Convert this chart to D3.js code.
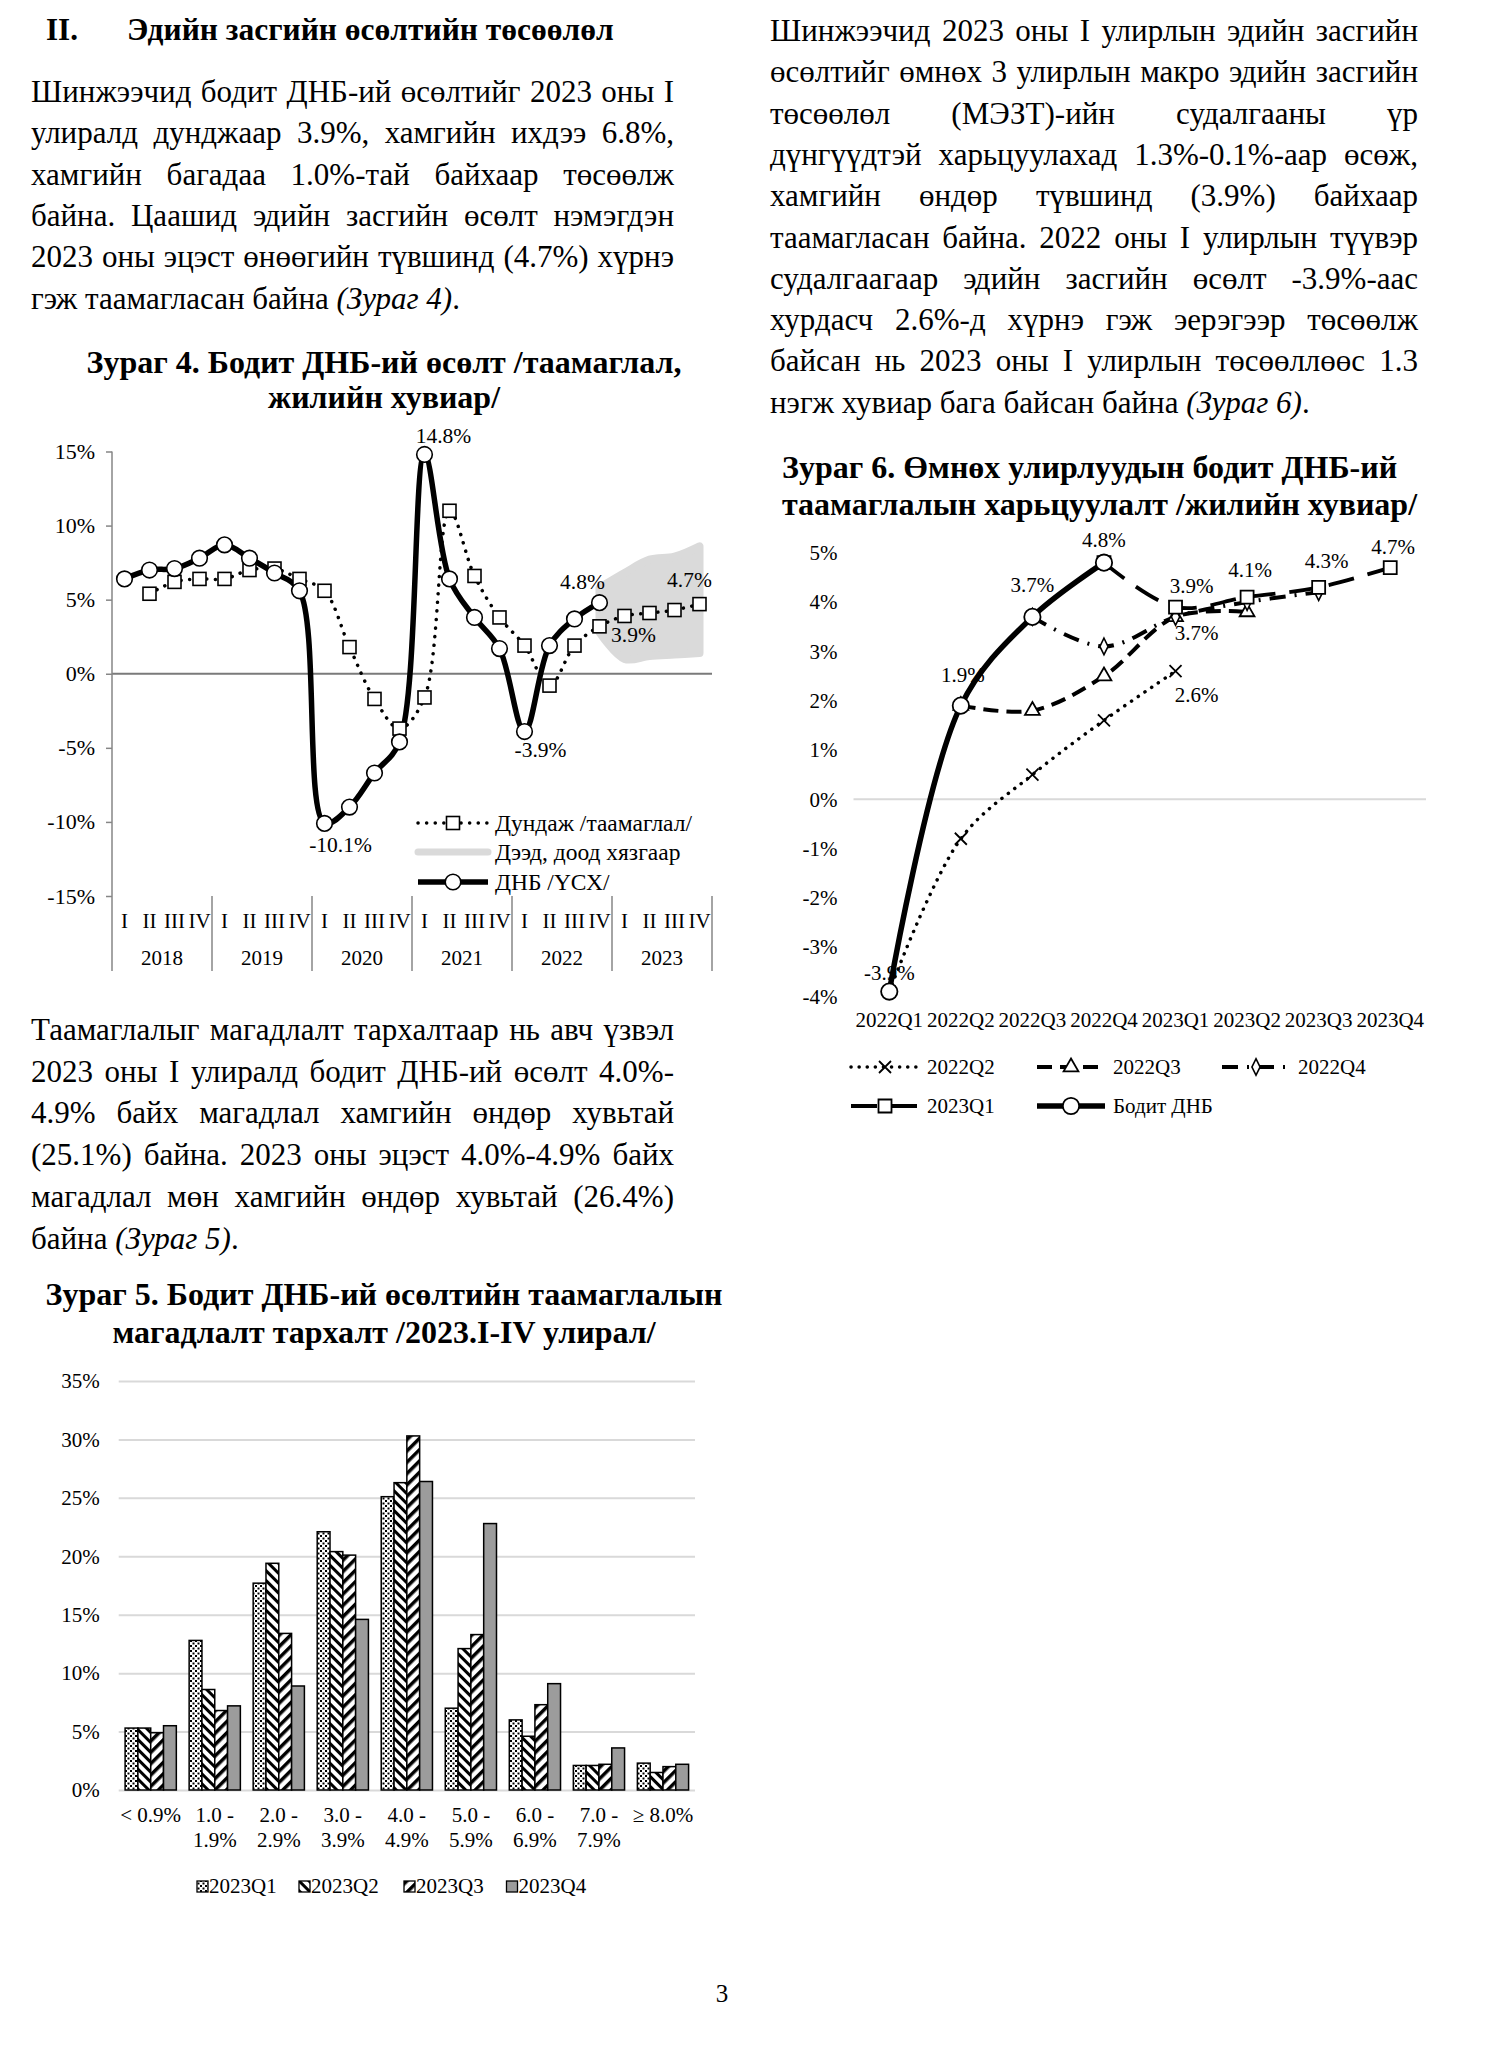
<!DOCTYPE html>
<html>
<head>
<meta charset="utf-8">
<script src="https://cdn.jsdelivr.net/npm/d3@7"></script>
<style>
  body { margin: 0; background: #fff; }
  svg { display: block; }
  text { font-family: "Liberation Serif", "Times New Roman", serif; fill: #000; }
</style>
</head>
<body>
<script>
"use strict";

/* ===== DATA ===== */

// text of the page
var headNum = "II.";
var headText = "Эдийн засгийн өсөлтийн төсөөлөл";
var para1 = [
  "Шинжээчид бодит ДНБ-ий өсөлтийг 2023 оны I",
  "улиралд дунджаар 3.9%, хамгийн ихдээ 6.8%,",
  "хамгийн багадаа 1.0%-тай байхаар төсөөлж",
  "байна. Цаашид эдийн засгийн өсөлт нэмэгдэн",
  "2023 оны эцэст өнөөгийн түвшинд (4.7%) хүрнэ"
];
var para1Last = [["гэж таамагласан байна ", false], ["(Зураг 4)", true], [".", false]];
var para2 = [
  "Шинжээчид 2023 оны I улирлын эдийн засгийн",
  "өсөлтийг өмнөх 3 улирлын макро эдийн засгийн",
  "төсөөлөл (МЭЗТ)-ийн судалгааны үр",
  "дүнгүүдтэй харьцуулахад 1.3%-0.1%-аар өсөж,",
  "хамгийн өндөр түвшинд (3.9%) байхаар",
  "таамагласан байна. 2022 оны I улирлын түүвэр",
  "судалгаагаар эдийн засгийн өсөлт -3.9%-аас",
  "хурдасч 2.6%-д хүрнэ гэж эерэгээр төсөөлж",
  "байсан нь 2023 оны I улирлын төсөөллөөс 1.3"
];
var para2Last = [["нэгж хувиар бага байсан байна ", false], ["(Зураг 6)", true], [".", false]];
var para3 = [
  "Таамаглалыг магадлалт тархалтаар нь авч үзвэл",
  "2023 оны I улиралд бодит ДНБ-ий өсөлт 4.0%-",
  "4.9% байх магадлал хамгийн өндөр хувьтай",
  "(25.1%) байна. 2023 оны эцэст 4.0%-4.9% байх",
  "магадлал мөн хамгийн өндөр хувьтай (26.4%)"
];
var para3Last = [["байна ", false], ["(Зураг 5)", true], [".", false]];

// Зураг 4
var title4 = ["Зураг 4. Бодит ДНБ-ий өсөлт /таамаглал,", "жилийн хувиар/"];
var quarters4 = ["I", "II", "III", "IV"];
var years4 = ["2018", "2019", "2020", "2021", "2022", "2023"];
var gdpActual = [6.4, 7.0, 7.1, 7.8,  8.7, 7.8, 6.8, 5.6,  -10.1, -9.0, -6.7, -4.6,
                 14.8, 6.4, 3.8, 1.7,  -3.9, 1.9, 3.7, 4.8,  null, null, null, null];
var gdpMean = [null, 5.4, 6.2, 6.4,  6.4, 7.0, 7.1, 6.4,  5.6, 1.8, -1.7, -3.7,
               -1.6, 11.0, 6.6, 3.8,  1.9, -0.8, 1.9, 3.2,  3.9, 4.1, 4.3, 4.7];
var bandUpper = [null, null, null, null, null, null, null, null, null, null, null, null,
                 null, null, null, null, null, null, null, 5.8, 6.8, 7.7, 7.9, 8.6];
var bandLower = [null, null, null, null, null, null, null, null, null, null, null, null,
                 null, null, null, null, null, null, null, 2.8, 1.0, 1.2, 1.3, 1.4];
var legend4 = ["Дундаж /таамаглал/", "Дээд, доод хязгаар", "ДНБ /ҮСХ/"];
// [quarter index, series, text, dx, dy]
var labels4 = [[12, "a", "14.8%", 19, -11], [8, "a", "-10.1%", 16, 29], [16, "a", "-3.9%", 16, 25],
               [19, "a", "4.8%", -17, -14], [23, "m", "4.7%", -10, -17], [20, "m", "3.9%", 9, 26]];

// Зураг 6
var title6 = ["Зураг 6. Өмнөх улирлуудын бодит ДНБ-ий", "таамаглалын харьцуулалт /жилийн хувиар/"];
var cats6 = ["2022Q1", "2022Q2", "2022Q3", "2022Q4", "2023Q1", "2023Q2", "2023Q3", "2023Q4"];
var f2022Q2 = [-3.9, -0.8, 0.5, 1.6, 2.6, null, null, null];
var f2022Q3 = [null, 1.9, 1.8, 2.5, 3.7, 3.8, null, null];
var f2022Q4 = [null, null, 3.7, 3.1, 3.7, 4.0, 4.2, null];
var f2023Q1 = [null, null, null, 4.8, 3.9, 4.1, 4.3, 4.7];
var gdpReal6 = [-3.9, 1.9, 3.7, 4.8, null, null, null, null];
var names6 = ["2022Q2", "2022Q3", "2022Q4", "2023Q1", "Бодит ДНБ"];
// [category index, value, text, dx, dy]
var labels6 = [[0, -3.9, "-3.9%", 0, -12], [1, 1.9, "1.9%", 2, -24], [2, 3.7, "3.7%", 0, -25],
               [3, 4.8, "4.8%", 0, -16], [4, 3.9, "3.9%", 16, -14], [4, 3.7, "3.7%", 21, 23],
               [4, 2.6, "2.6%", 21, 31], [5, 4.1, "4.1%", 3, -20], [6, 4.3, "4.3%", 8, -19],
               [7, 4.7, "4.7%", 3, -14]];

// Зураг 5
var title5 = ["Зураг 5. Бодит ДНБ-ий өсөлтийн таамаглалын", "магадлалт тархалт /2023.I-IV улирал/"];
var bins5 = [["< 0.9%"], ["1.0 -", "1.9%"], ["2.0 -", "2.9%"], ["3.0 -", "3.9%"], ["4.0 -", "4.9%"],
             ["5.0 -", "5.9%"], ["6.0 -", "6.9%"], ["7.0 -", "7.9%"], ["≥ 8.0%"]];
var series5 = ["2023Q1", "2023Q2", "2023Q3", "2023Q4"];
var p2023Q1 = [5.3, 12.8, 17.7, 22.1, 25.1, 7.0, 6.0, 2.1, 2.3];
var p2023Q2 = [5.3, 8.6, 19.4, 20.4, 26.3, 12.1, 4.6, 2.1, 1.5];
var p2023Q3 = [4.9, 6.8, 13.4, 20.1, 30.3, 13.3, 7.3, 2.2, 2.0];
var p2023Q4 = [5.5, 7.2, 8.9, 14.6, 26.4, 22.8, 9.1, 3.6, 2.2];

/* ===== PAGE ===== */

var svg = d3.select("body").append("svg")
            .attr("width", 1497)
            .attr("height", 2048);

// justified paragraph, every line except the last one spread to the full width
var paragraph = function(lines, last, x, y, width, lh) {
  var g = svg.append("g").style("font-size", "31px");
  lines.forEach(function(line, i) {
    var words = line.split(" ");
    var ty = y + i * lh;
    var nodes = words.map(function(w) { return g.append("text").attr("y", ty).text(w); });
    var widths = nodes.map(function(n) { return n.node().getComputedTextLength(); });
    var gap = (width - d3.sum(widths)) / (words.length - 1);
    if (gap < 4) {
      nodes.forEach(function(n) { n.remove(); });
      g.append("text").attr("x", x).attr("y", ty).text(line)
       .attr("textLength", width).attr("lengthAdjust", "spacingAndGlyphs");
      return;
    }
    var cx = x;
    nodes.forEach(function(n, j) { n.attr("x", cx); cx += widths[j] + gap; });
  });
  var t = g.append("text").attr("x", x).attr("y", y + lines.length * lh);
  last.forEach(function(p) {
    t.append("tspan").style("font-style", p[1] ? "italic" : "normal").text(p[0]);
  });
};

svg.append("text").attr("x", 46).attr("y", 40)
   .style("font-size", "31px").style("font-weight", "bold").text(headNum);
svg.append("text").attr("x", 127).attr("y", 40)
   .style("font-size", "31.5px").style("font-weight", "bold").text(headText);

paragraph(para1, para1Last, 31, 102, 643, 41.3);
paragraph(para2, para2Last, 770, 41, 648, 41.3);
paragraph(para3, para3Last, 31, 1040, 643, 41.7);

svg.append("text").attr("x", 722).attr("y", 2002).attr("text-anchor", "middle")
   .style("font-size", "25px").text("3");

var title = function(lines, x, y, lh, anchor) {
  lines.forEach(function(l, i) {
    svg.append("text").attr("x", x).attr("y", y + i * lh)
       .attr("text-anchor", anchor)
       .style("font-size", "32px").style("font-weight", "bold").text(l);
  });
};

/* ===== ЗУРАГ 4 ===== */
title(title4, 384, 373, 35, "middle");

var x4 = d3.scaleBand().domain(d3.range(24)).range([112, 712]);
var yr4 = d3.scaleBand().domain(years4).range([112, 712]);
var y4 = d3.scaleLinear().domain([-15, 15]).range([896, 451.5]);
var cx4 = function(i) { return x4(i) + x4.bandwidth() / 2; };
var g4 = svg.append("g");

// min / max band
var band = d3.area()
  .defined(function(d, i) { return bandUpper[i] != null; })
  .x(function(d, i) { return cx4(i); })
  .y0(function(d, i) { return y4(bandLower[i]); })
  .y1(function(d, i) { return y4(bandUpper[i]); })
  .curve(d3.curveCatmullRom);
g4.append("path").datum(bandUpper).attr("d", band)
  .attr("fill", "#dadada").attr("stroke", "#dadada")
  .attr("stroke-width", 8).attr("stroke-linejoin", "round");

// axes
var yAxis4 = d3.axisLeft(y4).tickValues([-15, -10, -5, 0, 5, 10, 15])
  .tickFormat(function(d) { return d + "%"; }).tickSize(6).tickPadding(11);
g4.append("g").attr("transform", "translate(112,0)").call(yAxis4)
  .call(function(a) {
    a.select(".domain").remove();
    a.selectAll("line").attr("stroke", "#868686").attr("stroke-width", 1.5);
    a.selectAll("text").style("font-size", "22px").style("font-family", "Liberation Serif");
  });
g4.append("line").attr("x1", 112).attr("x2", 712).attr("y1", y4(0)).attr("y2", y4(0))
  .attr("stroke", "#7a7a7a").attr("stroke-width", 2);
g4.append("line").attr("x1", 112).attr("x2", 112).attr("y1", y4(15)).attr("y2", 971)
  .attr("stroke", "#868686").attr("stroke-width", 1.5);
g4.selectAll(".sep").data(years4).enter().append("line")
  .attr("x1", function(d) { return yr4(d) + yr4.bandwidth(); })
  .attr("x2", function(d) { return yr4(d) + yr4.bandwidth(); })
  .attr("y1", y4(-15)).attr("y2", 971)
  .attr("stroke", "#868686").attr("stroke-width", 1.5);
g4.selectAll(".qlab").data(d3.range(24)).enter().append("text")
  .attr("x", cx4).attr("y", 928).attr("text-anchor", "middle")
  .style("font-size", "21px")
  .text(function(d) { return quarters4[d % 4]; });
g4.selectAll(".ylab").data(years4).enter().append("text")
  .attr("x", function(d) { return yr4(d) + yr4.bandwidth() / 2; })
  .attr("y", 965).attr("text-anchor", "middle")
  .style("font-size", "21px").text(function(d) { return d; });

// lines
var line4 = function(arr) {
  return d3.line()
    .defined(function(d) { return d != null; })
    .x(function(d, i) { return cx4(i); })
    .y(function(d) { return y4(d); })
    .curve(d3.curveCatmullRom)(arr);
};
g4.append("path").attr("d", line4(gdpMean)).attr("fill", "none")
  .attr("stroke", "#000").attr("stroke-width", 3.5)
  .attr("stroke-dasharray", "0.1,8.5").attr("stroke-linecap", "round");
g4.append("path").attr("d", line4(gdpActual)).attr("fill", "none")
  .attr("stroke", "#000").attr("stroke-width", 5.5);

// markers
gdpMean.forEach(function(d, i) {
  if (d == null) return;
  g4.append("rect").attr("x", cx4(i) - 6.5).attr("y", y4(d) - 6.5)
    .attr("width", 13).attr("height", 13)
    .attr("fill", "#fff").attr("stroke", "#000").attr("stroke-width", 1.6);
});
gdpActual.forEach(function(d, i) {
  if (d == null) return;
  g4.append("circle").attr("cx", cx4(i)).attr("cy", y4(d)).attr("r", 7.8)
    .attr("fill", "#fff").attr("stroke", "#000").attr("stroke-width", 1.6);
});

labels4.forEach(function(l) {
  var v = l[1] == "a" ? gdpActual[l[0]] : gdpMean[l[0]];
  g4.append("text").attr("x", cx4(l[0]) + l[3]).attr("y", y4(v) + l[4])
    .attr("text-anchor", "middle").style("font-size", "21.5px").text(l[2]);
});

// legend
var lg4 = g4.append("g");
[823, 852, 882].forEach(function(ly, i) {
  if (i == 0) {
    lg4.append("line").attr("x1", 418).attr("x2", 488).attr("y1", ly).attr("y2", ly)
      .attr("stroke", "#000").attr("stroke-width", 3.5)
      .attr("stroke-dasharray", "0.1,8.5").attr("stroke-linecap", "round");
    lg4.append("rect").attr("x", 446.5).attr("y", ly - 6.5).attr("width", 13).attr("height", 13)
      .attr("fill", "#fff").attr("stroke", "#000").attr("stroke-width", 1.6);
  } else if (i == 1) {
    lg4.append("line").attr("x1", 418).attr("x2", 488).attr("y1", ly).attr("y2", ly)
      .attr("stroke", "#dadada").attr("stroke-width", 7).attr("stroke-linecap", "round");
  } else {
    lg4.append("line").attr("x1", 418).attr("x2", 488).attr("y1", ly).attr("y2", ly)
      .attr("stroke", "#000").attr("stroke-width", 5.5);
    lg4.append("circle").attr("cx", 453).attr("cy", ly).attr("r", 7.8)
      .attr("fill", "#fff").attr("stroke", "#000").attr("stroke-width", 1.6);
  }
  lg4.append("text").attr("x", 495).attr("y", ly + 8).style("font-size", "23.5px").text(legend4[i]);
});

/* ===== ЗУРАГ 6 ===== */
title(title6, 782, 478, 37, "start");

var x6 = d3.scaleBand().domain(cats6).range([853.5, 1426]);
var y6 = d3.scaleLinear().domain([-4, 5]).range([996.5, 552.8]);
var cx6 = function(i) { return x6(cats6[i]) + x6.bandwidth() / 2; };
var g6 = svg.append("g");

g6.append("g").attr("transform", "translate(853.5,0)")
  .call(d3.axisLeft(y6).ticks(9).tickFormat(function(d) { return d + "%"; }).tickSize(0).tickPadding(16))
  .call(function(a) {
    a.select(".domain").remove();
    a.selectAll("text").style("font-size", "21px").style("font-family", "Liberation Serif");
  });
g6.append("line").attr("x1", 853.5).attr("x2", 1426).attr("y1", y6(0)).attr("y2", y6(0))
  .attr("stroke", "#d9d9d9").attr("stroke-width", 2);
g6.selectAll(".cat").data(cats6).enter().append("text")
  .attr("x", function(d, i) { return cx6(i); }).attr("y", 1027)
  .attr("text-anchor", "middle").style("font-size", "21px").text(function(d) { return d; });

var styles6 = [
  { data: f2022Q2, width: 3.5, dash: "0.1,8", cap: "round", mark: "x" },
  { data: f2022Q3, width: 4, dash: "15,8", cap: "butt", mark: "tri" },
  { data: f2022Q4, width: 4, dash: "16,9,2,9", cap: "butt", mark: "dia" },
  { data: f2023Q1, width: 3.8, dash: "26,14", cap: "butt", mark: "sq" },
  { data: gdpReal6, width: 5.5, dash: null, cap: "butt", mark: "circ" }
];
var line6 = d3.line()
  .defined(function(d) { return d != null; })
  .x(function(d, i) { return cx6(i); })
  .y(function(d) { return y6(d); })
  .curve(d3.curveCatmullRom);

var marker = function(g, type, x, y) {
  if (type == "x") {
    g.append("path").attr("d", "M" + (x - 6) + "," + (y - 6) + "L" + (x + 6) + "," + (y + 6) +
        "M" + (x + 6) + "," + (y - 6) + "L" + (x - 6) + "," + (y + 6))
      .attr("stroke", "#000").attr("stroke-width", 1.8).attr("fill", "none");
  } else {
    var sym = { tri: d3.symbolTriangle, dia: d3.symbolDiamond, sq: d3.symbolSquare, circ: d3.symbolCircle }[type];
    var size = { tri: 95, dia: 80, sq: 169, circ: 210 }[type];
    g.append("path").attr("d", d3.symbol().type(sym).size(size)())
      .attr("transform", "translate(" + x + "," + y + ")" + (type == "dia" ? " scale(0.85,1)" : ""))
      .attr("fill", "#fff").attr("stroke", "#000").attr("stroke-width", 1.8);
  }
};

styles6.forEach(function(s) {
  g6.append("path").attr("d", line6(s.data)).attr("fill", "none")
    .attr("stroke", "#000").attr("stroke-width", s.width)
    .attr("stroke-dasharray", s.dash).attr("stroke-linecap", s.cap);
});
styles6.forEach(function(s) {
  s.data.forEach(function(d, i) { if (d != null) marker(g6, s.mark, cx6(i), y6(d)); });
});

labels6.forEach(function(l) {
  g6.append("text").attr("x", cx6(l[0]) + l[3]).attr("y", y6(l[1]) + l[4])
    .attr("text-anchor", "middle").style("font-size", "21px").text(l[2]);
});

// legend
var pos6 = [[851, 1067], [1037, 1067], [1222, 1067], [851, 1106], [1037, 1106]];
styles6.forEach(function(s, i) {
  var lx = pos6[i][0], ly = pos6[i][1];
  g6.append("line").attr("x1", lx).attr("x2", lx + 68).attr("y1", ly).attr("y2", ly)
    .attr("stroke", "#000").attr("stroke-width", s.width)
    .attr("stroke-dasharray", s.dash).attr("stroke-linecap", s.cap);
  marker(g6, s.mark, lx + 34, ly);
  g6.append("text").attr("x", lx + 76).attr("y", ly + 7).style("font-size", "21px").text(names6[i]);
});

/* ===== ЗУРАГ 5 ===== */
title(title5, 384, 1305, 38, "middle");

var defs = svg.append("defs");
var p1 = defs.append("pattern").attr("id", "pQ1").attr("patternUnits", "userSpaceOnUse")
  .attr("width", 5).attr("height", 5);
p1.append("rect").attr("width", 5).attr("height", 5).attr("fill", "#fff");
p1.append("rect").attr("width", 2).attr("height", 2).attr("fill", "#000");
p1.append("rect").attr("x", 2.5).attr("y", 2.5).attr("width", 2).attr("height", 2).attr("fill", "#000");
var p2 = defs.append("pattern").attr("id", "pQ2").attr("patternUnits", "userSpaceOnUse")
  .attr("width", 7).attr("height", 7).attr("patternTransform", "rotate(-45)");
p2.append("rect").attr("width", 7).attr("height", 7).attr("fill", "#fff");
p2.append("rect").attr("width", 3).attr("height", 7).attr("fill", "#000");
var p3 = defs.append("pattern").attr("id", "pQ3").attr("patternUnits", "userSpaceOnUse")
  .attr("width", 8).attr("height", 8).attr("patternTransform", "rotate(45)");
p3.append("rect").attr("width", 8).attr("height", 8).attr("fill", "#fff");
p3.append("rect").attr("width", 3.5).attr("height", 8).attr("fill", "#000");
var fills5 = ["url(#pQ1)", "url(#pQ2)", "url(#pQ3)", "#9c9c9c"];

var x5 = d3.scaleBand().domain(d3.range(9)).range([118.7, 695]).paddingInner(0.2).paddingOuter(0.1);
var xs5 = d3.scaleBand().domain(series5).range([0, x5.bandwidth()]);
var y5 = d3.scaleLinear().domain([0, 35]).range([1790, 1381]);
var g5 = svg.append("g");

g5.append("g").attr("transform", "translate(118.7,0)")
  .call(d3.axisLeft(y5).tickValues(d3.range(0, 36, 5))
    .tickFormat(function(d) { return d + "%"; })
    .tickSize(-576.3).tickPadding(19))
  .call(function(a) {
    a.select(".domain").remove();
    a.selectAll("line").attr("stroke", "#d9d9d9").attr("stroke-width", 2);
    a.selectAll("text").style("font-size", "21px").style("font-family", "Liberation Serif");
  });

var vals5 = [p2023Q1, p2023Q2, p2023Q3, p2023Q4];
series5.forEach(function(s, k) {
  g5.selectAll(".b" + k).data(vals5[k]).enter().append("rect")
    .attr("x", function(d, i) { return x5(i) + xs5(s); })
    .attr("y", function(d) { return y5(d); })
    .attr("width", xs5.bandwidth())
    .attr("height", function(d) { return y5(0) - y5(d); })
    .attr("fill", fills5[k]).attr("stroke", "#000").attr("stroke-width", 1.5);
});

bins5.forEach(function(b, i) {
  b.forEach(function(t, j) {
    g5.append("text").attr("x", x5(i) + x5.bandwidth() / 2).attr("y", 1822 + j * 25)
      .attr("text-anchor", "middle").style("font-size", "21px").text(t);
  });
});

var pos5 = [197, 299, 404, 506.5];
series5.forEach(function(s, k) {
  g5.append("rect").attr("x", pos5[k]).attr("y", 1881).attr("width", 11).attr("height", 11)
    .attr("fill", fills5[k]).attr("stroke", "#000").attr("stroke-width", 1.3);
  g5.append("text").attr("x", pos5[k] + 12).attr("y", 1893).style("font-size", "21px").text(s);
});
</script>
</body>
